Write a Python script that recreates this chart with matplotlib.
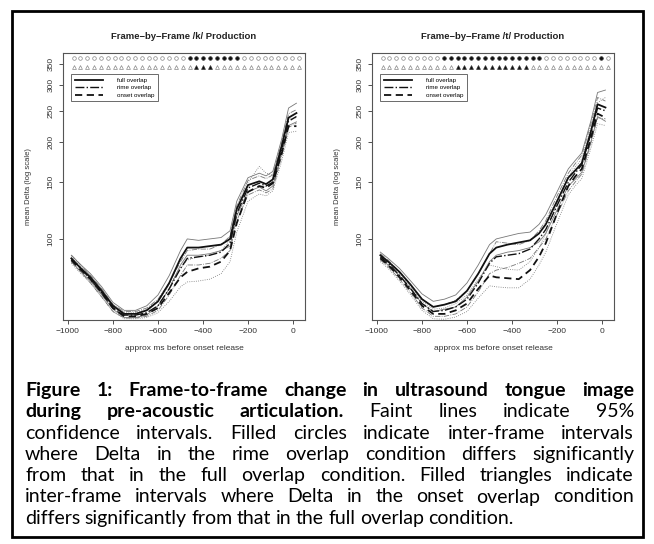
import matplotlib
matplotlib.use("Agg")
import matplotlib.pyplot as plt
from matplotlib.patches import Rectangle

# time points (approx ms before onset release)
times = [-985, -950, -900, -850, -800, -750, -700, -650, -600, -550, -500, -470,
         -420, -370, -320, -280, -250, -200, -150, -120, -90, -50, -20, 15]

# /k/ production
k_full = [87, 82, 76, 69, 62, 58.5, 58.5, 60, 64, 73, 87, 94, 94, 95, 96, 100, 124, 147, 151, 148, 153, 195, 238, 246]
k_full_hi = [89, 84, 78, 71, 63.5, 60, 60, 62, 67, 77, 92, 100, 99, 100, 101, 106, 131, 155, 160, 157, 162, 205, 255, 264]
k_full_lo = [85, 80, 74, 67, 60.5, 57, 57, 58, 62, 70, 83, 89, 89, 90, 92, 95, 118, 140, 145, 141, 146, 185, 225, 231]
k_rime = [87, 82, 75, 68, 61, 58, 58, 59, 62, 70, 81, 87, 88, 89, 91, 97, 120, 144, 149, 146, 150, 190, 232, 240]
k_rime_hi = [89, 84, 77, 70, 62.5, 59.5, 59.5, 61, 65, 73, 85, 92, 93, 93, 96, 102, 127, 152, 157, 154, 158, 200, 245, 252]
k_rime_lo = [85, 80, 73, 66, 59.5, 56.8, 56.8, 57.5, 60, 67, 77, 83, 83, 84, 87, 92, 114, 137, 142, 139, 143, 181, 222, 229]
k_onset = [86, 81, 75, 68, 61, 57.5, 57.5, 58.5, 61, 68, 76, 79, 81, 82, 85, 92, 112, 140, 146, 144, 149, 185, 224, 224]
k_onset_hi = [88, 83, 77, 70, 62.5, 59, 59, 60.5, 64, 72, 81, 86, 88, 89, 92, 99, 119, 150, 168, 160, 158, 196, 236, 238]
k_onset_lo = [84, 79, 73, 66, 59.5, 56.5, 56.5, 57, 59, 64, 71, 73.5, 74, 75, 78, 85, 105, 131, 138, 136, 141, 175, 214, 216]

# /t/ production
t_full = [89, 85, 79, 72, 65, 61.5, 62.5, 64, 69, 78, 90, 94, 96, 97.5, 99, 104, 111, 131, 155, 163, 172, 215, 262, 256]
t_full_hi = [91, 87, 81, 74, 67.5, 64, 65, 67, 73, 83, 96, 100, 102, 104, 105, 111, 119, 140, 165, 175, 185, 232, 285, 290]
t_full_lo = [87, 83, 77, 70, 63, 59.5, 60.5, 61.5, 66, 74, 85, 89, 91, 92, 94, 98, 104, 123, 146, 153, 161, 200, 240, 232]
t_rime = [88, 84, 77, 70, 63, 59.5, 60, 61.5, 65, 73, 84, 88, 89, 90, 93, 100, 107, 127, 150, 160, 170, 212, 255, 250]
t_rime_hi = [90, 86, 79, 72, 65, 61.5, 62.5, 64.5, 69, 78, 90, 98, 97, 96, 99, 106, 114, 136, 160, 171, 182, 227, 275, 268]
t_rime_lo = [86, 82, 75, 68, 61, 57.5, 57.5, 58.5, 61.5, 68.5, 78, 80, 81.5, 84, 87, 94, 100, 119, 141, 150, 159, 198, 238, 236]
t_onset = [87, 83, 76, 69, 62, 58.5, 58.5, 60, 63, 70, 77, 76, 75.5, 75, 80, 88, 97, 120, 146, 156, 165, 205, 245, 238]
t_onset_hi = [89, 85, 78, 71, 64, 60.5, 61, 63, 67, 75, 83, 82, 80.5, 80, 85, 94, 104, 129, 156, 167, 177, 220, 265, 275]
t_onset_lo = [85, 81, 74, 67, 60, 56.5, 56.3, 57.2, 59.5, 65.5, 71.5, 71, 70.5, 70.5, 75, 83, 91, 112, 137, 146, 154, 191, 228, 225]

# significance markers per inter-frame interval (1 = significant)
frame_times = [-975 + 30.3 * i for i in range(34)]
k_rime_sig = [0]*17 + [1]*8 + [0]*9
k_onset_sig = [0]*18 + [1]*3 + [0]*13
t_rime_sig = [0]*9 + [1]*15 + [0]*8 + [1] + [0]
t_onset_sig = [0]*11 + [1]*11 + [0]*12

yticks = [100, 150, 200, 250, 300, 350]
xticks = [-1000, -800, -600, -400, -200, 0]

plt.rcParams['font.family'] = ['Liberation Sans', 'DejaVu Sans']
fig = plt.figure(figsize=(6.54, 5.44), dpi=100)
W, H = 654, 544


def panel(left_px, title, full, fhi, flo, rime, rhi, rlo, onset, ohi, olo, rsig, osig):
    ax = fig.add_axes([left_px / W, 1 - 320 / H, 242 / W, 267 / H])
    ax.set_yscale('log')
    # confidence intervals (faint)
    ax.plot(times, fhi, color='#777', lw=0.6, ls='-')
    ax.plot(times, flo, color='#777', lw=0.6, ls='-')
    ax.plot(times, rhi, color='#777', lw=0.6, ls='-.')
    ax.plot(times, rlo, color='#777', lw=0.6, ls='-.')
    ax.plot(times, ohi, color='#777', lw=0.6, ls=':')
    ax.plot(times, olo, color='#777', lw=0.6, ls=':')
    # means
    ax.plot(times, full, color='#111', lw=1.3, ls='-', label='full overlap')
    ax.plot(times, rime, color='#111', lw=1.0, ls='-.', label='rime overlap')
    ax.plot(times, onset, color='#111', lw=1.3, ls=(0, (4, 2.5)), label='onset overlap')
    # significance rows
    for t, s in zip(frame_times, rsig):
        ax.plot(t, 365, 'o', ms=2.6, mew=0.5, mec='#333' if s else '#888', mfc='#111' if s else 'white')
    for t, s in zip(frame_times, osig):
        ax.plot(t, 343, '^', ms=2.8, mew=0.5, mec='#333' if s else '#888', mfc='#111' if s else 'white')
    ax.set_xlim(-1022, 53)
    ax.set_ylim(56, 378)
    ax.set_yticks(yticks)
    ax.set_yticklabels([str(v) for v in yticks], rotation=90, va='center')
    ax.minorticks_off()
    ax.set_xticks(xticks)
    ax.set_xticklabels(['\u22121000', '\u2212800', '\u2212600', '\u2212400', '\u2212200', '0'])
    ax.tick_params(labelsize=6, length=3, width=0.6, color='#333', labelcolor='#333', pad=3)
    for sp in ax.spines.values():
        sp.set_color('#555')
        sp.set_linewidth(0.8)
    ax.set_title(title, fontsize=6.8, fontweight='bold', color='#222', pad=10)
    ax.set_xlabel('approx ms before onset release', fontsize=6, color='#333', labelpad=7)
    ax.set_ylabel('mean Delta (log scale)', fontsize=5.5, color='#333', labelpad=11)
    leg = ax.legend(loc='upper left', bbox_to_anchor=(0.033, 0.921), fontsize=4.5,
                    frameon=True, fancybox=False, edgecolor='#444', borderaxespad=0,
                    handlelength=4.5, handletextpad=2.3, borderpad=0.6, labelspacing=0.3)
    leg.get_frame().set_linewidth(0.7)
    return ax


panel(63, 'Frame\u2212by\u2212Frame /k/ Production', k_full, k_full_hi, k_full_lo,
      k_rime, k_rime_hi, k_rime_lo, k_onset, k_onset_hi, k_onset_lo, k_rime_sig, k_onset_sig)
panel(372, 'Frame\u2212by\u2212Frame /t/ Production', t_full, t_full_hi, t_full_lo,
      t_rime, t_rime_hi, t_rime_lo, t_onset, t_onset_hi, t_onset_lo, t_rime_sig, t_onset_sig)

# outer frame
fig.patches.append(Rectangle((12 / W, 1 - 537 / H), 631 / W, 526 / H, transform=fig.transFigure,
                             fill=False, lw=2, edgecolor='black'))

# justified caption
caption = [
    [("Figure 1: Frame-to-frame change in ultrasound tongue image", True)],
    [("during pre-acoustic articulation.", True), ("Faint lines indicate 95%", False)],
    [("confidence intervals. Filled circles indicate inter-frame intervals", False)],
    [("where Delta in the rime overlap condition differs significantly", False)],
    [("from that in the full overlap condition. Filled triangles indicate", False)],
    [("inter-frame intervals where Delta in the onset overlap condition", False)],
    [("differs significantly from that in the full overlap condition.", False)],
]
x0, x1 = 25, 634
fs = 14.0
renderer = fig.canvas.get_renderer()
for i, line in enumerate(caption):
    y = 1 - (396 + 21.3 * i) / H
    words = []
    for txt, bold in line:
        for w in txt.split():
            words.append((w, bold))
    items = []
    for w, bold in words:
        t = fig.text(0, y, w, fontsize=fs, family=['Lato', 'DejaVu Sans'],
                     fontweight='bold' if bold else 'normal', va='baseline', ha='left')
        items.append((t, t.get_window_extent(renderer).width))
    total = sum(wd for _, wd in items)
    last = i == len(caption) - 1
    gap = 4.5 if last else (x1 - x0 - total) / (len(items) - 1)
    x = x0
    for t, wd in items:
        t.set_x(x / W)
        x += wd + gap

fig.savefig('out.png', dpi=100)
